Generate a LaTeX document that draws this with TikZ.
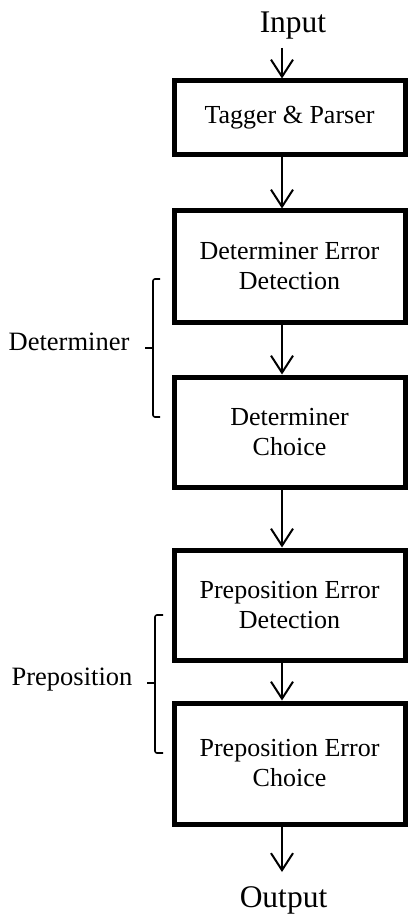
\documentclass[tikz,border=0pt]{standalone}
\usepackage{fontspec}
\setmainfont{Liberation Serif}
\usetikzlibrary{arrows.meta}
\begin{document}
\begin{tikzpicture}[x=1pt,y=-1pt,
  stage/.style={draw,line width=5pt,minimum width=231pt,align=center,
    inner sep=0pt,font=\fontsize{26}{30}\selectfont},
  io/.style={font=\fontsize{31.5}{36}\selectfont,inner sep=0pt},
  side/.style={font=\fontsize{26.5}{30}\selectfont,inner sep=0pt},
  flow/.style={line width=2pt,-{Straight Barb[length=17pt,width=22pt,line width=2pt]}},
  bracket/.style={line width=1.6pt,rounded corners=2pt}]
\useasboundingbox (0,0) rectangle (409,917);

% stages of the pipeline
\node[stage,minimum height=74pt]  (tp)  at (289.5,118)   {Tagger \& Parser};
\node[stage,minimum height=111pt] (ded) at (289.5,266.5) {Determiner Error\\Detection};
\node[stage,minimum height=110pt] (dc)  at (289.5,432)   {Determiner\\Choice};
\node[stage,minimum height=110pt] (ped) at (289.5,605)   {Preposition Error\\Detection};
\node[stage,minimum height=121pt] (pec) at (289.5,763.5) {Preposition Error\\Choice};

% input and output
\node[io,anchor=base] (in)  at (293,33)   {Input};
\node[io,anchor=base] (out) at (283.5,907) {Output};
\coordinate (inend)  at (282,48);
\coordinate (outend) at (282,872);

% connectors
\draw[flow] (inend) -- (inend |- tp.north);
\draw[flow] ([xshift=-7.5pt]tp.south)  -- ([xshift=-7.5pt]ded.north);
\draw[flow] ([xshift=-7.5pt]ded.south) -- ([xshift=-7.5pt]dc.north);
\draw[flow] ([xshift=-7.5pt]dc.south)  -- ([xshift=-7.5pt]ped.north);
\draw[flow] ([xshift=-7.5pt]ped.south) -- ([xshift=-7.5pt]pec.north);
\draw[flow] ([xshift=-7.5pt]pec.south) -- (outend);

% group brackets and labels
\node[side,anchor=base] (det) at (69,350) {Determiner};
\node[side,anchor=base] (pre) at (72,685) {Preposition};
\coordinate (dtop) at (160,279);
\coordinate (dbot) at (160,417);
\coordinate (dmid) at (145,348);
\draw[bracket] (dtop) -- (153,279) -- (153,417) -- (dbot);
\draw[line width=1.6pt] (153,348) -- (dmid);
\coordinate (ptop) at (163,615);
\coordinate (pbot) at (163,753);
\coordinate (pmid) at (147,683);
\draw[bracket] (ptop) -- (155,615) -- (155,753) -- (pbot);
\draw[line width=1.6pt] (155,683) -- (pmid);
\end{tikzpicture}
\end{document}
